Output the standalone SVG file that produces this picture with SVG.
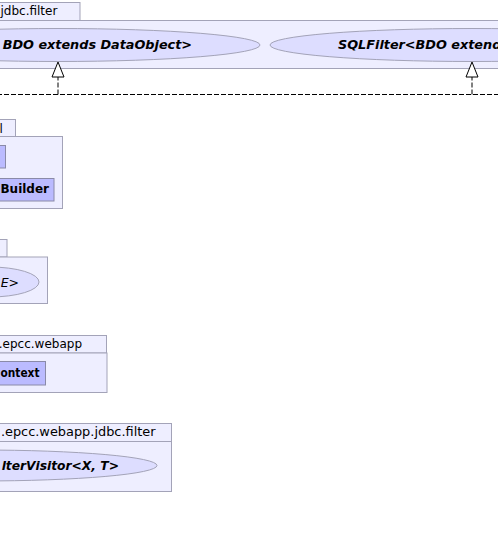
<svg xmlns="http://www.w3.org/2000/svg" width="498" height="535" viewBox="0 0 498 535">
<style>
.pkg{fill:#EEEEFF;stroke:#A3A3B8;stroke-width:1}
.cls{fill:#BBBBFF;stroke:#8A8AA8;stroke-width:1}
.ell{fill:#DDDDFF;stroke:#A3A3B8;stroke-width:1}
.t{font-family:"DejaVu Sans",sans-serif;font-size:12px;fill:#000}
.b{font-family:"DejaVu Sans",sans-serif;font-size:12px;font-weight:bold;fill:#000}
.bi{font-family:"DejaVu Sans",sans-serif;font-size:12.8px;font-weight:bold;font-style:italic;fill:#000}
.i{font-family:"DejaVu Sans",sans-serif;font-size:12.5px;font-style:italic;fill:#000}
.dash{fill:none;stroke:#000;stroke-width:1;stroke-dasharray:5,2}
.head{fill:#fff;stroke:#000;stroke-width:1}
</style>
<rect width="498" height="535" fill="#fff"/>
<g id="pkg-jdbc-filter">
<rect class="pkg" x="-10" y="2.5" width="90" height="18"/>
<rect class="pkg" x="-10" y="20.5" width="520" height="48"/>
<text class="t" x="0.5" y="15">jdbc.filter</text>
<g id="node-filter-left">
<ellipse class="ell" cx="58" cy="45" rx="202" ry="16.5"/>
<text class="bi" x="192" y="49" text-anchor="end">BDO extends DataObject&gt;</text>
</g>
<g id="node-sqlfilter">
<ellipse class="ell" cx="472" cy="45" rx="202" ry="16.5"/>
<text class="bi" x="338" y="49">SQLFilter&lt;BDO extends</text>
</g>
</g>
<g id="pkg-2">
<rect class="pkg" x="-10" y="119.5" width="25.5" height="17"/>
<rect class="pkg" x="-10" y="136.5" width="72.5" height="72"/>
<text class="t" x="-0.5" y="133">l</text>
<g id="node-class-a"><rect class="cls" x="-10" y="145.5" width="15.5" height="22.5"/></g>
<g id="node-builder">
<rect class="cls" x="-10" y="178.5" width="64" height="22.5"/>
<text class="b" x="49" y="193" text-anchor="end">Builder</text>
</g>
</g>
<g id="pkg-3">
<rect class="pkg" x="-10" y="239.5" width="17" height="17.5"/>
<rect class="pkg" x="-10" y="257" width="57.5" height="46.5"/>
<g id="node-e">
<ellipse class="ell" cx="-10" cy="282" rx="49" ry="15"/>
<text class="i" x="19" y="287" text-anchor="end">E&gt;</text>
</g>
</g>
<g id="pkg-webapp">
<rect class="pkg" x="-10" y="335.5" width="116.5" height="17.5"/>
<rect class="pkg" x="-10" y="353" width="117" height="39.5"/>
<text class="t" x="82" y="347.5" text-anchor="end">.epcc.webapp</text>
<g id="node-context">
<rect class="cls" x="-10" y="361.5" width="55.5" height="23.5"/>
<text class="b" x="0.5" y="377" textLength="39" lengthAdjust="spacingAndGlyphs">ontext</text>
</g>
</g>
<g id="pkg-webapp-jdbc-filter">
<rect class="pkg" x="-10" y="423.5" width="181.5" height="18"/>
<rect class="pkg" x="-10" y="441.5" width="181.5" height="50"/>
<text class="t" x="155.5" y="436" text-anchor="end" style="font-size:12.9px">.epcc.webapp.jdbc.filter</text>
<g id="node-filtervisitor">
<ellipse class="ell" cx="-20" cy="465.5" rx="177" ry="15.5"/>
<text class="bi" x="119" y="470" text-anchor="end" style="font-size:12.3px">lterVisitor&lt;X, T&gt;</text>
</g>
</g>
<g id="connectors">
<path class="dash" d="M-10,94.5 H510"/>
<path class="dash" d="M58,94.5 V77"/>
<path class="dash" d="M472,94.5 V77"/>
<polygon class="head" points="58,62 52,77 64,77"/>
<polygon class="head" points="472,62 466,77 478,77"/>
</g>
</svg>
